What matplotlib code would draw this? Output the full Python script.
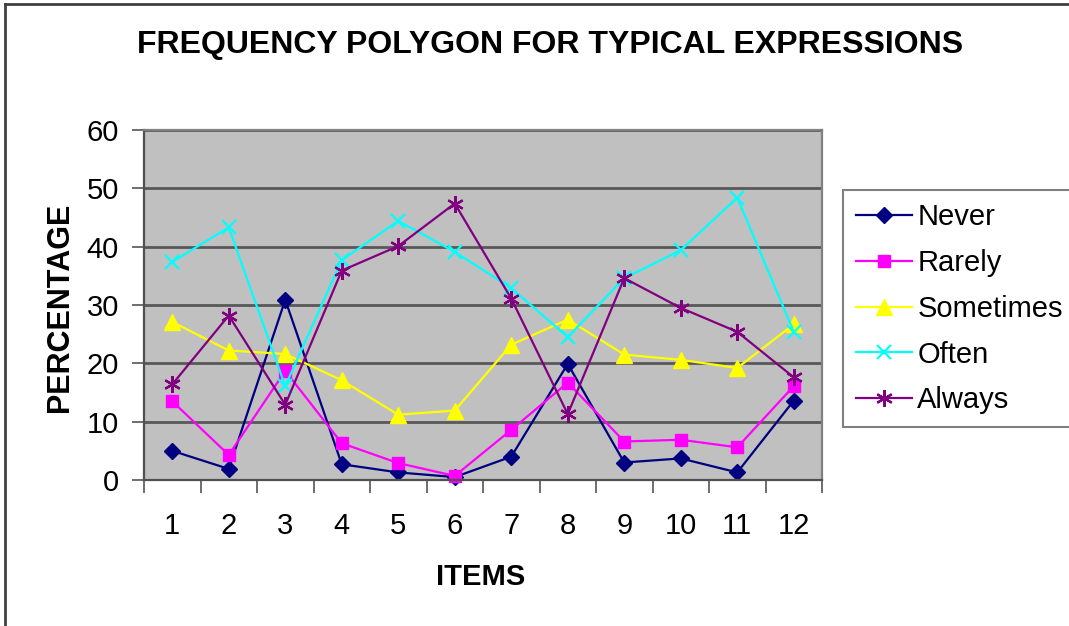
import numpy as np
import matplotlib
matplotlib.use("Agg")
import matplotlib.pyplot as plt
from matplotlib.lines import Line2D

plt.rcParams['font.family'] = ['Liberation Sans', 'DejaVu Sans']

items = ["1", "2", "3", "4", "5", "6", "7", "8", "9", "10", "11", "12"]
never = [5.0, 1.9, 30.9, 2.7, 1.3, 0.5, 4.0, 19.9, 3.0, 3.7, 1.3, 13.6]
rarely = [13.5, 4.3, 18.7, 6.3, 2.9, 0.7, 8.6, 16.7, 6.6, 6.9, 5.6, 16.1]
sometimes = [27.1, 22.2, 21.6, 17.1, 11.2, 11.9, 23.2, 27.5, 21.5, 20.6, 19.2, 26.7]
often = [37.4, 43.3, 16.1, 37.7, 44.4, 39.1, 32.9, 24.5, 34.6, 39.4, 48.4, 25.4]
always = [16.4, 28.2, 12.9, 35.9, 40.1, 47.4, 31.1, 11.3, 34.6, 29.5, 25.4, 17.6]

series = [
    ("Never", never, "#000080", "D", 8.5),
    ("Rarely", rarely, "#FF00FF", "s", 8.5),
    ("Sometimes", sometimes, "#FFFF00", "^", 11),
    ("Often", often, "#00FFFF", "x", 10),
    ("Always", always, "#800080", (6, 2, 0), 12),
]

W, H = 1069, 626
fig = plt.figure(figsize=(W / 100, H / 100), dpi=100)
ax = fig.add_axes([144 / W, 1 - 480 / H, 678 / W, 350 / H])
ax.set_facecolor("#C0C0C0")

x = np.arange(len(items))
for name, vals, col, mk, ms in series:
    ax.plot(x, vals, color=col, lw=1.6, marker=mk, markersize=ms,
            markeredgewidth=1.6 if mk in ("x", (6, 2, 0)) else 1.0,
            markeredgecolor=col, markerfacecolor=col, label=name, clip_on=False)

ax.set_xlim(-0.5, len(items) - 0.5)
ax.set_ylim(0, 60)
ax.set_yticks(range(0, 61, 10))
ax.set_xticks(x)
ax.set_xticklabels(items)
ax.set_xticks(np.arange(-0.5, len(items), 1), minor=True)
ax.tick_params(axis="x", which="major", length=0, pad=23, labelsize=21)
ax.tick_params(axis="x", which="minor", length=9, width=1.2, color="#555555", direction="out")
ax.tick_params(axis="y", length=9, width=1.2, color="#555555", direction="out", pad=9, labelsize=21)
ax.yaxis.grid(True, color="#585858", lw=2)
ax.set_axisbelow(True)
for s in ("left", "bottom"):
    ax.spines[s].set_color("#505050")
    ax.spines[s].set_linewidth(1.6)
for s in ("top", "right"):
    ax.spines[s].set_color("#808080")
    ax.spines[s].set_linewidth(1.6)

fig.text(550 / W, 1 - 45 / H, "FREQUENCY POLYGON FOR TYPICAL EXPRESSIONS",
         ha="center", va="center", fontsize=23, fontweight="bold")
fig.text(481 / W, 1 - 577 / H, "ITEMS", ha="center", va="center",
         fontsize=21, fontweight="bold")
fig.text(60 / W, 1 - 307 / H, "PERCENTAGE", ha="center", va="center",
         rotation=90, fontsize=22, fontweight="bold")

leg = fig.legend(loc="upper left", bbox_to_anchor=(843 / W, 1 - 190 / H),
                 borderaxespad=0, fontsize=21, frameon=True, fancybox=False,
                 handlelength=1.9, labelspacing=0.61, handletextpad=0.2,
                 borderpad=0.45)
leg.get_frame().set_edgecolor("#606060")
leg.get_frame().set_linewidth(1.5)

# outer frame (top and left edges visible)
fig.add_artist(Line2D([5 / W, 5 / W], [0, 1 - 4 / H], color="#404040", lw=2))
fig.add_artist(Line2D([5 / W, 1], [1 - 4 / H, 1 - 4 / H], color="#404040", lw=2))

fig.savefig("out.png", dpi=100, facecolor="white")
